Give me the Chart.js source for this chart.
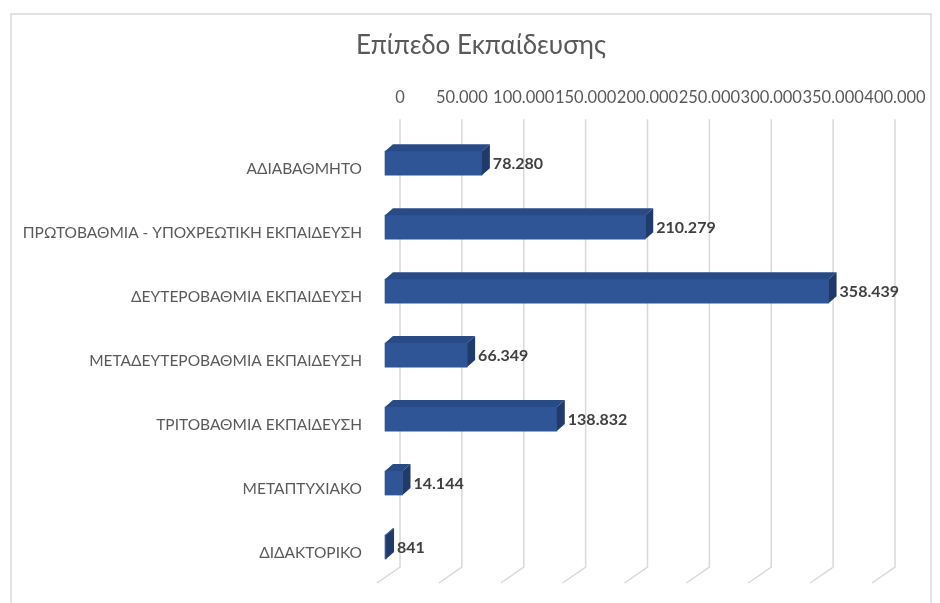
<!DOCTYPE html>
<html lang="el">
<head>
<meta charset="utf-8">
<title>Επίπεδο Εκπαίδευσης</title>
<script src="https://cdn.jsdelivr.net/npm/chart.js@4.4.1/dist/chart.umd.min.js"></script>
<style>
  html, body { margin: 0; padding: 0; background: #ffffff; }
  #wrap { position: relative; width: 940px; height: 603px; }
</style>
</head>
<body>
<div id="wrap"><canvas id="educationLevel"></canvas></div>
<script>
const categories = [
  'ΑΔΙΑΒΑΘΜΗΤΟ',
  'ΠΡΩΤΟΒΑΘΜΙΑ - ΥΠΟΧΡΕΩΤΙΚΗ ΕΚΠΑΙΔΕΥΣΗ',
  'ΔΕΥΤΕΡΟΒΑΘΜΙΑ ΕΚΠΑΙΔΕΥΣΗ',
  'ΜΕΤΑΔΕΥΤΕΡΟΒΑΘΜΙΑ ΕΚΠΑΙΔΕΥΣΗ',
  'ΤΡΙΤΟΒΑΘΜΙΑ ΕΚΠΑΙΔΕΥΣΗ',
  'ΜΕΤΑΠΤΥΧΙΑΚΟ',
  'ΔΙΔΑΚΤΟΡΙΚΟ'
];
const persons = [78280, 210279, 358439, 66349, 138832, 14144, 841];
const axisMin = 0;
const axisMax = 400000;
const axisStep = 50000;
const chartTitle = 'Επίπεδο Εκπαίδευσης';

const FONT = 'Lato, "Open Sans", "Noto Sans", sans-serif';

// thousands with a dot, like the greek excel output
const fmt = (v) => v.toString().replace(/\B(?=(\d{3})+(?!\d))/g, '.');

// front plane of the 3d bars is shifted from the back wall
const depth = { dx: -15, dy: 12 };
const face = { dx: 8, dy: -7 };

const frame = {
  id: 'frame',
  beforeDraw(chart) {
    const c = chart.ctx;
    c.save();
    c.fillStyle = '#ffffff';
    c.fillRect(0, 0, chart.width, chart.height);
    c.strokeStyle = '#d9d9d9';
    c.lineWidth = 1.5;
    c.strokeRect(11, 14, 920, 620);
    c.restore();
  },
  afterLayout(chart) {
    // excel centres the title a bit right of the canvas middle
    chart.titleBlock.left = 67;
  }
};

const grid3d = {
  id: 'grid3d',
  beforeDatasetsDraw(chart) {
    const c = chart.ctx;
    const x = chart.scales.x;
    const area = chart.chartArea;
    c.save();
    c.strokeStyle = '#d9d9d9';
    c.lineWidth = 1.5;
    x.ticks.forEach((t) => {
      const px = x.getPixelForValue(t.value);
      c.beginPath();
      c.moveTo(px, area.top);
      c.lineTo(px, area.bottom);
      c.lineTo(px - 23, area.bottom + 16);
      c.stroke();
    });
    c.restore();
  }
};

const bars3d = {
  id: 'bars3d',
  beforeDatasetDraw(chart) {
    chart.ctx.save();
    chart.ctx.translate(depth.dx, depth.dy);
  },
  afterDatasetDraw(chart, args) {
    const c = chart.ctx;
    const ds = chart.data.datasets[args.index];
    args.meta.data.forEach((el, i) => {
      const p = el.getProps(['x', 'y', 'base', 'height'], true);
      const top = p.y - p.height / 2;
      const bot = p.y + p.height / 2;
      // top face
      c.fillStyle = '#284b88';
      c.beginPath();
      c.moveTo(p.base, top);
      c.lineTo(p.base + face.dx, top + face.dy);
      c.lineTo(p.x + face.dx, top + face.dy);
      c.lineTo(p.x, top);
      c.closePath();
      c.fill();
      // side face
      c.fillStyle = '#1f3a6b';
      c.beginPath();
      c.moveTo(p.x, top);
      c.lineTo(p.x + face.dx, top + face.dy);
      c.lineTo(p.x + face.dx, bot + face.dy);
      c.lineTo(p.x, bot);
      c.closePath();
      c.fill();
      // value label
      c.fillStyle = '#404040';
      c.font = 'bold 16px ' + FONT;
      c.textAlign = 'left';
      c.textBaseline = 'middle';
      c.fillText(fmt(ds.data[i]), p.x + face.dx + 3, p.y + 1);
    });
    c.restore();
  }
};

document.addEventListener('DOMContentLoaded', () => {
  const ctx = document.getElementById('educationLevel').getContext('2d');

  const data = {
    labels: categories,
    datasets: [{
      label: chartTitle,
      data: persons,
      backgroundColor: '#2f5597',
      borderWidth: 0,
      barThickness: 24,
      clip: false
    }]
  };

  const config = {
    type: 'bar',
    data: data,
    options: {
      indexAxis: 'y',
      responsive: true,
      maintainAspectRatio: false,
      animation: false,
      layout: {
        padding: { top: 0, right: 45, bottom: 36, left: 0 }
      },
      scales: {
        x: {
          position: 'top',
          min: axisMin,
          max: axisMax,
          grid: { display: false, drawTicks: false },
          border: { display: false },
          afterFit: (scale) => { scale.height = 48; },
          ticks: {
            stepSize: axisStep,
            autoSkip: false,
            maxRotation: 0,
            padding: 12,
            color: '#595959',
            font: { size: 16.5, family: FONT },
            callback: (value) => fmt(value)
          }
        },
        y: {
          grid: { display: false, drawTicks: false },
          border: { display: false },
          afterFit: (scale) => {
            scale.width = 400;
            scale.paddingTop = 0;
            scale.paddingBottom = 0;
          },
          ticks: {
            padding: 38,
            labelOffset: 18,
            autoSkip: false,
            color: '#595959',
            font: { size: 15.5, family: FONT }
          }
        }
      },
      plugins: {
        legend: { display: false },
        tooltip: { enabled: false },
        title: {
          display: true,
          text: chartTitle,
          color: '#595959',
          font: { size: 26, weight: 'normal', family: FONT },
          padding: { top: 30, bottom: 10 }
        }
      }
    },
    plugins: [frame, grid3d, bars3d]
  };

  new Chart(ctx, config);
});
</script>
</body>
</html>
